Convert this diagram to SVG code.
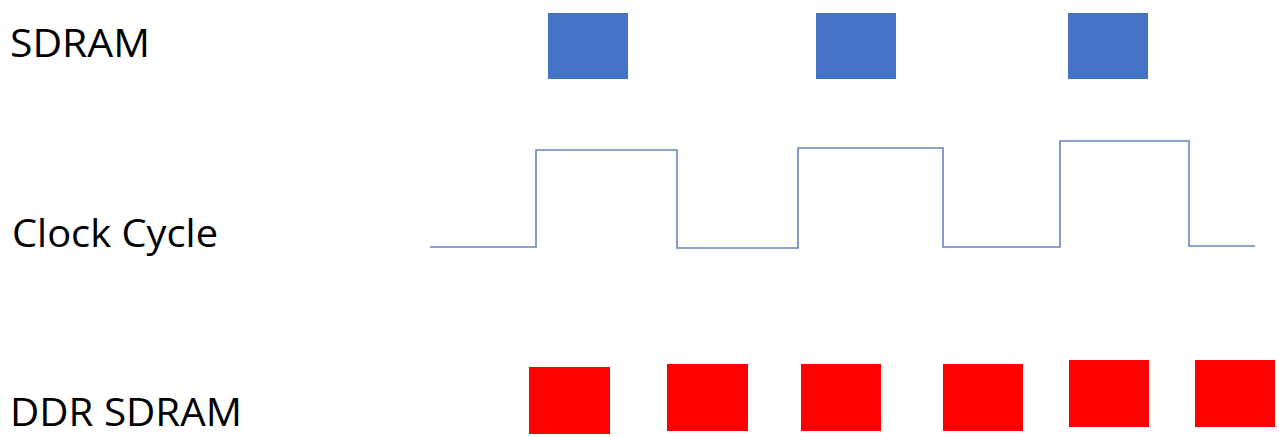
<svg xmlns="http://www.w3.org/2000/svg" width="1279" height="437" viewBox="0 0 1279 437">
  <style>
    .lbl { font-family: "Open Sans", "Lato", "Liberation Sans", sans-serif; font-size: 39px; fill: #000; }
    .blue { fill: #4472C4; }
    .red { fill: #FF0000; }
    .wave { fill: none; stroke: #6A84BE; stroke-width: 1.6; stroke-linejoin: miter; }
  </style>
  <rect width="1279" height="437" fill="#fff"/>
  <g id="label-sdram"><text class="lbl" x="10" y="57" textLength="140" lengthAdjust="spacingAndGlyphs">SDRAM</text></g>
  <g id="label-clock"><text class="lbl" x="12" y="247" textLength="206" lengthAdjust="spacingAndGlyphs">Clock Cycle</text></g>
  <g id="label-ddr"><text class="lbl" x="10" y="426" textLength="232" lengthAdjust="spacingAndGlyphs">DDR SDRAM</text></g>

  <g id="sdram-blocks">
    <rect class="blue" x="548" y="13" width="80" height="66"/>
    <rect class="blue" x="816" y="13" width="80" height="66"/>
    <rect class="blue" x="1068" y="13" width="80" height="66"/>
  </g>

  <g id="clock-wave">
    <polyline class="wave" points="430,247 536,247 536,150 677,150 677,248 798,248 798,148 943,148 943,247 1060,247 1060,141 1189,141 1189,246 1255,246"/>
  </g>

  <g id="ddr-blocks">
    <rect class="red" x="529" y="367" width="81" height="67"/>
    <rect class="red" x="667" y="364" width="81" height="67"/>
    <rect class="red" x="801" y="364" width="80" height="67"/>
    <rect class="red" x="943" y="364" width="80" height="67"/>
    <rect class="red" x="1069" y="360" width="80" height="67"/>
    <rect class="red" x="1195" y="360" width="80" height="67"/>
  </g>
</svg>
